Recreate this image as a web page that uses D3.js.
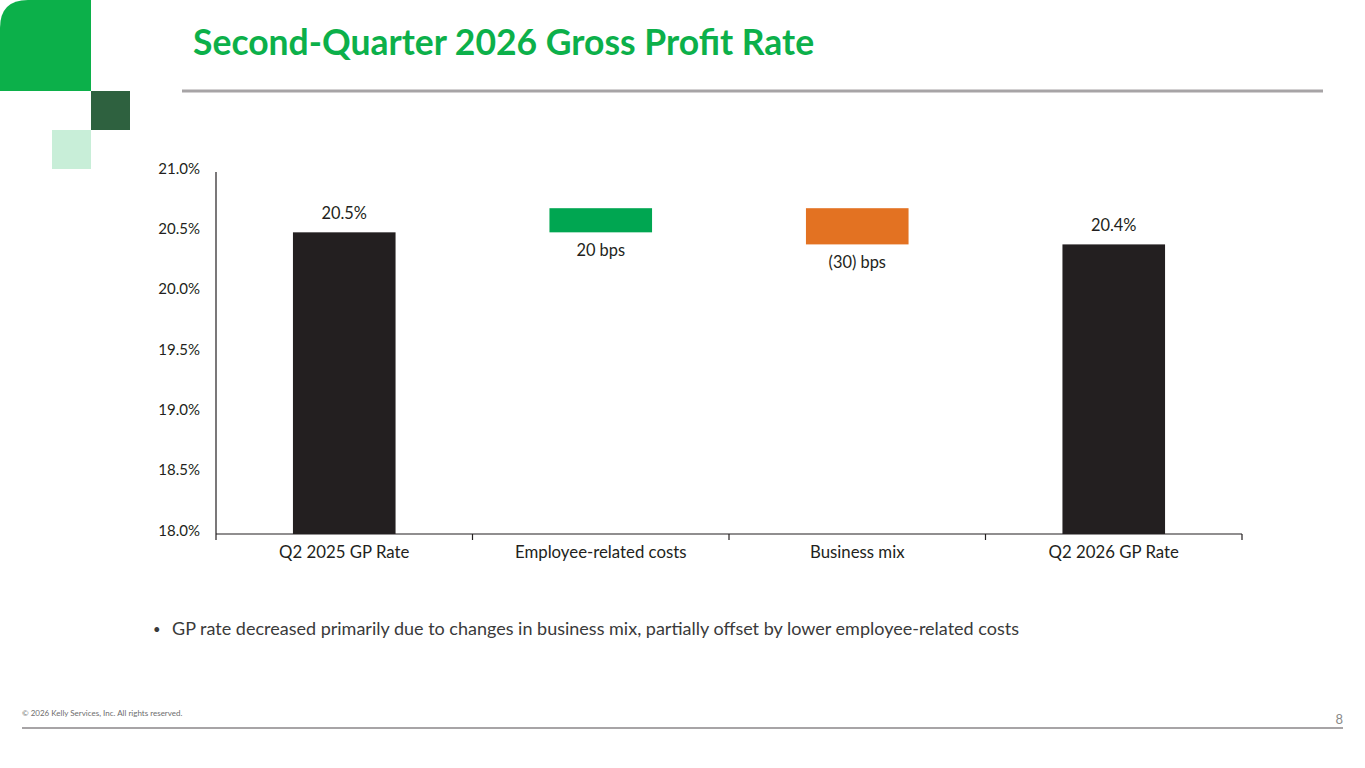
<!DOCTYPE html>
<html>
<head>
<meta charset="utf-8">
<script src="https://cdn.jsdelivr.net/npm/d3@7"></script>
<style>
  body { margin: 0; background: #ffffff; }
  svg text { font-family: Lato, "Open Sans", sans-serif; }
  .tick-label { font-size: 15px; fill: #231f20; }
  .cat-label { font-size: 16.8px; fill: #231f20; }
  .val-label { font-size: 16.4px; fill: #231f20; }
</style>
</head>
<body>
<div id="chart"></div>
<script>
// chart data
var categories = ["Q2 2025 GP Rate", "Employee-related costs", "Business mix", "Q2 2026 GP Rate"];
var bar_start = [18.0, 20.5, 20.7, 18.0];
var bar_end = [20.5, 20.7, 20.4, 20.4];
var bar_labels = ["20.5%", "20 bps", "(30) bps", "20.4%"];
var bar_colors = ["#231f20", "#00a651", "#e37222", "#231f20"];
var y_ticks = [18.0, 18.5, 19.0, 19.5, 20.0, 20.5, 21.0];

var width = 1365,
  height = 768;

var svg = d3
  .select("#chart")
  .append("svg")
  .attr("width", width)
  .attr("height", height)
  .attr("viewBox", [0, 0, width, height]);

// Corner decoration
svg
  .append("path")
  .attr("d", "M0,91 L0,28 Q0,0 28,0 L91,0 L91,91 Z")
  .attr("fill", "#0cb04a");
svg.append("rect").attr("x", 91).attr("y", 91).attr("width", 39).attr("height", 39).attr("fill", "#2e613f");
svg.append("rect").attr("x", 52).attr("y", 130).attr("width", 39).attr("height", 39).attr("fill", "#c8eed8");

// Title
svg
  .append("text")
  .attr("x", 193)
  .attr("y", 55)
  .attr("fill", "#0cb04a")
  .attr("font-size", 35.5)
  .attr("font-weight", 700)
  .text("Second-Quarter 2026 Gross Profit Rate");

svg
  .append("line")
  .attr("x1", 182)
  .attr("x2", 1323)
  .attr("y1", 91)
  .attr("y2", 91)
  .attr("stroke", "#a7a4a6")
  .attr("stroke-width", 3);

// Scales
var x = d3.scaleBand().domain(categories).range([216, 1242]).paddingInner(0).paddingOuter(0);
var y = d3.scaleLinear().domain([18.0, 21.0]).range([534, 172]);

var bar_w = x.bandwidth() * 0.4;

// Y axis
var y_axis = svg.append("g").attr("transform", "translate(216,0)");
y_axis
  .append("line")
  .attr("y1", y(21.0))
  .attr("y2", y(18.0))
  .attr("stroke", "#231f20")
  .attr("stroke-width", 1.2);
y_axis
  .selectAll("text")
  .data(y_ticks)
  .enter()
  .append("text")
  .attr("class", "tick-label")
  .attr("x", -16)
  .attr("y", (d) => y(d) - 2)
  .attr("text-anchor", "end")
  .attr("dominant-baseline", "middle")
  .text((d) => d.toFixed(1) + "%");

// X axis
var x_axis = svg.append("g");
x_axis
  .append("line")
  .attr("x1", 216)
  .attr("x2", 1242)
  .attr("y1", y(18.0))
  .attr("y2", y(18.0))
  .attr("stroke", "#231f20")
  .attr("stroke-width", 1.2);
var x_ticks = categories.map((d) => x(d)).concat([x(categories[categories.length - 1]) + x.bandwidth()]);
x_axis
  .selectAll("line.tk")
  .data(x_ticks)
  .enter()
  .append("line")
  .attr("class", "tk")
  .attr("x1", (d) => d)
  .attr("x2", (d) => d)
  .attr("y1", y(18.0))
  .attr("y2", y(18.0) + 6)
  .attr("stroke", "#231f20")
  .attr("stroke-width", 1.2);
x_axis
  .selectAll("text")
  .data(categories)
  .enter()
  .append("text")
  .attr("class", "cat-label")
  .attr("x", (d) => x(d) + x.bandwidth() / 2)
  .attr("y", 558)
  .attr("text-anchor", "middle")
  .text((d) => d);

// Bars
var bars = categories.map((c, i) => ({
  cat: c,
  lo: Math.min(bar_start[i], bar_end[i]),
  hi: Math.max(bar_start[i], bar_end[i]),
  label: bar_labels[i],
  color: bar_colors[i],
  total: i === 0 || i === categories.length - 1,
}));

svg
  .selectAll("rect.bar")
  .data(bars)
  .enter()
  .append("rect")
  .attr("class", "bar")
  .attr("x", (d) => x(d.cat) + (x.bandwidth() - bar_w) / 2)
  .attr("y", (d) => y(d.hi))
  .attr("width", bar_w)
  .attr("height", (d) => y(d.lo) - y(d.hi))
  .attr("fill", (d) => d.color);

// Bar labels: totals above, changes below
svg
  .selectAll("text.val")
  .data(bars)
  .enter()
  .append("text")
  .attr("class", "val-label")
  .attr("x", (d) => x(d.cat) + x.bandwidth() / 2)
  .attr("y", (d) => (d.total ? y(d.hi) - 13 : y(d.lo) + 24))
  .attr("text-anchor", "middle")
  .text((d) => d.label);

// Bullet note
var note = svg.append("text").attr("x", 153).attr("y", 635).attr("font-size", 18).attr("fill", "#3a3a3a");
note.append("tspan").attr("font-size", 13).attr("dy", -1).text("•");
note
  .append("tspan")
  .attr("x", 172)
  .attr("dy", 1)
  .text("GP rate decreased primarily due to changes in business mix, partially offset by lower employee-related costs");

// Footer
svg
  .append("text")
  .attr("x", 22)
  .attr("y", 716)
  .attr("font-size", 8)
  .attr("fill", "#6d6d6d")
  .text("© 2026 Kelly Services, Inc. All rights reserved.");
svg
  .append("line")
  .attr("x1", 22)
  .attr("x2", 1343)
  .attr("y1", 728)
  .attr("y2", 728)
  .attr("stroke", "#a7a4a6")
  .attr("stroke-width", 2);
svg
  .append("text")
  .attr("x", 1343)
  .attr("y", 724)
  .attr("text-anchor", "end")
  .attr("font-size", 13)
  .attr("fill", "#8a8a8a")
  .text("8");
</script>
</body>
</html>
